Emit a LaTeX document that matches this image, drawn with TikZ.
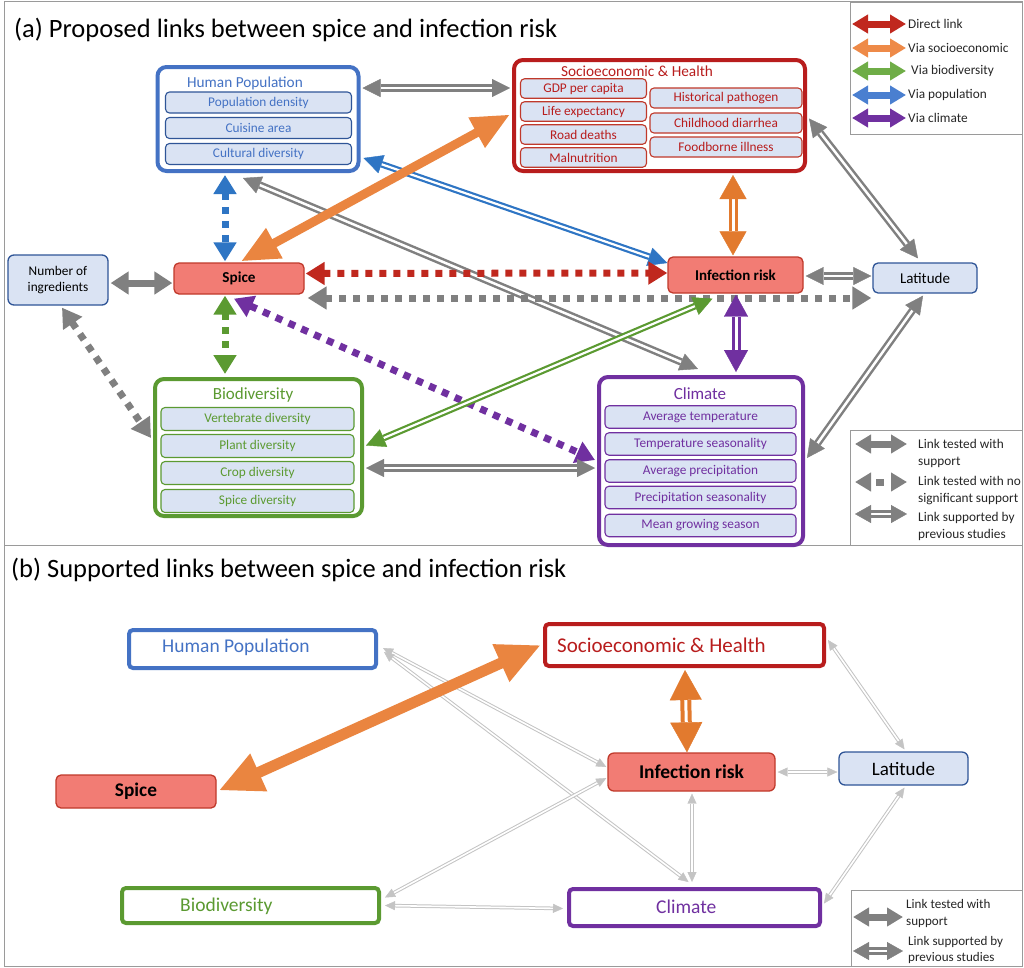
\documentclass[tikz,border=0pt]{standalone}
\usepackage{fontspec}
\setmainfont{Carlito}
\usetikzlibrary{arrows.meta,calc,decorations.markings}
\definecolor{hpblue}{HTML}{4472C4}
\definecolor{navy}{HTML}{2F5597}
\definecolor{sered}{HTML}{B81D1D}
\definecolor{itemred}{HTML}{C0392B}
\definecolor{biogreen}{HTML}{5B9A31}
\definecolor{clpurple}{HTML}{7030A0}
\definecolor{itemfill}{HTML}{DAE3F3}
\definecolor{spicefill}{HTML}{F27C74}
\definecolor{spiceedge}{HTML}{C0392B}
\definecolor{arrgray}{HTML}{808080}
\definecolor{lightarr}{HTML}{C4C4C4}
\definecolor{orangearr}{HTML}{EA8540}
\definecolor{orangedbl}{HTML}{E27A2E}
\definecolor{redarr}{HTML}{C0281E}
\definecolor{bluearr}{HTML}{2E75C4}
\definecolor{framegray}{HTML}{9A9A9A}
\definecolor{leggreen}{HTML}{6FAD47}
\definecolor{legblue}{HTML}{4A7FD0}
\definecolor{legorange}{HTML}{EE8A48}
\newcommand\fsz[2]{\fontsize{#1}{#2}\selectfont}
\begin{document}
\begin{tikzpicture}[x=1pt,y=-1pt,
  bigbox/.style={draw=#1, line width=4pt, rounded corners=9pt, fill=white, inner sep=0pt},
  bbox/.style={draw=#1, line width=4pt, rounded corners=4pt, fill=white, inner sep=0pt},
  boxtitle/.style={font=\fsz{15.3}{18}, inner sep=0pt},
  bigtitle/.style={font=\fsz{17}{20}, inner sep=0pt},
  itembox/.style 2 args={draw=#1, text=#2, line width=1.1pt, rounded corners=4pt, fill=itemfill, inner sep=0pt, font=\fsz{13.3}{15}},
  varbox/.style 2 args={draw=#1, fill=#2, line width=1.3pt, rounded corners=6pt, inner sep=0pt},
  btext/.style={font=\fsz{19.5}{22}, inner sep=0pt},
  panelframe/.style={draw=framegray, line width=1pt},
  legtext/.style={anchor=west, align=left, inner sep=0pt, font=\fsz{13.3}{17}, text=black!85},
  solidarr/.style={color=#1, draw, line width=7pt, {Triangle[length=18pt,width=22pt]}-{Triangle[length=18pt,width=22pt]}},
  legarr/.style={color=#1, draw, line width=7pt, {Triangle[length=16pt,width=18pt]}-{Triangle[length=16pt,width=18pt]}},
  dasharr/.style={color=#1, draw, line width=7pt, dash pattern=on 7pt off 7pt, {Triangle[length=19pt,width=22pt]}-{Triangle[length=19pt,width=22pt]}},
  thickarr/.style={color=#1, draw, line width=9pt, {Triangle[length=38pt,width=32pt]}-{Triangle[length=38pt,width=32pt]}},
  thickarrB/.style={color=#1, draw, line width=11pt, {Triangle[length=44pt,width=38pt]}-{Triangle[length=44pt,width=38pt]}},
  dblarrow/.style n args={5}{color=#1,
    preaction={draw=#1, double=white, line width=#2, double distance=#3, shorten <=#4, shorten >=#4},
    postaction={decorate, decoration={markings,
      mark=at position 0 with {\arrowreversed{Triangle[length=#4,width=#5]}},
      mark=at position 1 with {\arrow{Triangle[length=#4,width=#5]}}}}},
  gdbl/.style={dblarrow={arrgray}{2.5pt}{2.5pt}{18pt}{18pt}},
  ldbl/.style={dblarrow={lightarr}{1pt}{1.6pt}{10pt}{9pt}},
]
\useasboundingbox (0,0) rectangle (1024,967);
\fill[white] (0,0) rectangle (1024,967);
% panel frames
\draw[panelframe] (4,1) rectangle (1022,545);
\draw[panelframe] (4,545) rectangle (1022,966);

% ================= panel (a) =================
\node[anchor=west, font=\fsz{26.5}{30}, inner sep=0pt] (titleA) at (14,30) {(a) Proposed links between spice and infection risk};

% Human population
\node[bigbox=hpblue, minimum width=201pt, minimum height=104pt] (hp) at (258,119) {};
\node[boxtitle, text=hpblue] (hpT) at (245,83) {Human Population};
\node[itembox={navy}{hpblue}, minimum width=186pt, minimum height=21pt] (hp1) at (258.5,102.5) {Population density};
\node[itembox={navy}{hpblue}, minimum width=186pt, minimum height=21pt] (hp2) at (258.5,128) {Cuisine area};
\node[itembox={navy}{hpblue}, minimum width=186pt, minimum height=21pt] (hp3) at (258.5,154) {Cultural diversity};

% Socioeconomic & Health
\node[bigbox=sered, minimum width=291pt, minimum height=111pt] (se) at (659.5,115.5) {};
\node[boxtitle, text=sered] (seT) at (637,71) {Socioeconomic \& Health};
\node[itembox={itemred}{sered}, minimum width=126pt, minimum height=19.5pt] (se1) at (583.5,88.5) {GDP per capita};
\node[itembox={itemred}{sered}, minimum width=126pt, minimum height=19.5pt] (se2) at (583.5,111.5) {Life expectancy};
\node[itembox={itemred}{sered}, minimum width=126pt, minimum height=19.5pt] (se3) at (583.5,134.5) {Road deaths};
\node[itembox={itemred}{sered}, minimum width=126pt, minimum height=19.5pt] (se4) at (583.5,157.5) {Malnutrition};
\node[itembox={itemred}{sered}, minimum width=152pt, minimum height=20pt] (se5) at (726,98) {Historical pathogen};
\node[itembox={itemred}{sered}, minimum width=152pt, minimum height=20pt] (se6) at (726,123) {Childhood diarrhea};
\node[itembox={itemred}{sered}, minimum width=152pt, minimum height=20pt] (se7) at (726,147) {Foodborne illness};

% Biodiversity
\node[bigbox=biogreen, minimum width=207pt, minimum height=137pt] (bio) at (258.5,447.5) {};
\node[bigtitle, text=biogreen] (bioT) at (253,395) {Biodiversity};
\node[itembox={biogreen}{biogreen}, minimum width=193pt, minimum height=23pt] (bio1) at (257.5,419) {Vertebrate diversity};
\node[itembox={biogreen}{biogreen}, minimum width=193pt, minimum height=23pt] (bio2) at (257.5,446) {Plant diversity};
\node[itembox={biogreen}{biogreen}, minimum width=193pt, minimum height=23pt] (bio3) at (257.5,473) {Crop diversity};
\node[itembox={biogreen}{biogreen}, minimum width=193pt, minimum height=23pt] (bio4) at (257.5,501) {Spice diversity};

% Climate
\node[bigbox=clpurple, minimum width=204pt, minimum height=168pt] (cl) at (701,461) {};
\node[bigtitle, text=clpurple] (clT) at (700,394) {Climate};
\node[itembox={clpurple}{clpurple}, minimum width=191pt, minimum height=22.5pt] (cl1) at (700.5,417) {Average temperature};
\node[itembox={clpurple}{clpurple}, minimum width=191pt, minimum height=22.5pt] (cl2) at (700.5,444) {Temperature seasonality};
\node[itembox={clpurple}{clpurple}, minimum width=191pt, minimum height=22.5pt] (cl3) at (700.5,471) {Average precipitation};
\node[itembox={clpurple}{clpurple}, minimum width=191pt, minimum height=22.5pt] (cl4) at (700.5,497.5) {Precipitation seasonality};
\node[itembox={clpurple}{clpurple}, minimum width=191pt, minimum height=22.5pt] (cl5) at (700.5,525.5) {Mean growing season};

% single variables
\node[varbox={navy}{itemfill}, minimum width=100pt, minimum height=50pt, align=center, font=\fsz{13.3}{16}] (ni) at (58,280) {Number of\\ingredients};
\node[varbox={spiceedge}{spicefill}, minimum width=130pt, minimum height=31pt, font=\fsz{15.2}{17}\bfseries, rounded corners=5pt] (spice) at (239,278.5) {Spice};
\node[varbox={spiceedge}{spicefill}, minimum width=135pt, minimum height=36pt, font=\fsz{15}{17}\bfseries, rounded corners=5pt] (inf) at (735.5,275) {Infection risk};
\node[varbox={navy}{itemfill}, minimum width=104pt, minimum height=30pt, font=\fsz{15}{17}, rounded corners=5pt] (lat) at (925,278) {Latitude};

% connectors (a)
\path[gdbl] ($(hp.east)+(2,-31)$) -- ($(se.west)+(-2,-27.5)$);
\path[gdbl] ($(hp.south)+(-15,5)$) -- ($(cl.north)+(-3,-6)$);
\path[dblarrow={bluearr}{2.2pt}{2.2pt}{19pt}{19pt}] ($(hp.east)+(3,39)$) -- ($(inf.west)+(0,-12)$);
\draw[dasharr=bluearr] ($(hp.south)+(-33,2)$) -- ($(spice.north)+(-14,-1)$);
\draw[dasharr=biogreen] ($(spice.south)+(-14,1)$) -- ($(bio.north)+(-33.5,-3)$);
\draw[dasharr=redarr] ($(spice.east)+(1,-5)$) -- ($(inf.west)+(0,-2)$);
\draw[dasharr=arrgray] ($(spice.east)+(3,19.5)$) -- ($(lat.west)+(-1,20)$);
\draw[dasharr=arrgray] ($(ni.south)+(4,2)$) -- ($(bio.west)+(-2,-9.5)$);
\draw[dasharr=clpurple] ($(spice.south)+(-5,4)$) -- ($(cl.west)+(-2,-1)$);
\draw[solidarr=arrgray] ($(ni.east)+(2,3)$) -- ($(spice.west)+(-1,4.5)$);
\path[dblarrow={biogreen}{2.2pt}{2.2pt}{19pt}{19pt}] ($(inf.south)+(-23,5)$) -- ($(bio.east)+(2,-2)$);
\path[gdbl] ($(bio.east)+(2,20.5)$) -- ($(cl.west)+(-2,7)$);
\path[dblarrow={orangedbl}{3pt}{3pt}{24pt}{27pt}] ($(se.south)+(73.5,2)$) -- ($(inf.north)+(-2.5,-1)$);
\path[dblarrow={clpurple}{3pt}{3pt}{22pt}{24pt}] ($(inf.south)+(0.5,1)$) -- ($(cl.north)+(35,-3)$);
\path[gdbl] ($(inf.east)+(2,1)$) -- ($(lat.west)+(-1,-2)$);
\path[gdbl] ($(se.east)+(2,3)$) -- ($(lat.north)+(-7,-4)$);
\path[gdbl] ($(lat.south)+(-2,2)$) -- ($(cl.east)+(2,-3)$);
\draw[thickarr=orangearr] ($(spice.north)+(2,-1)$) -- ($(se.west)+(-2,-1)$);

% legend top
\draw[panelframe] (850,2) rectangle (1022,134);
\coordinate (la1) at (852,24); \coordinate (lb1) at (906,24);
\coordinate (la2) at (852,48); \coordinate (lb2) at (906,48);
\coordinate (la3) at (852,71); \coordinate (lb3) at (906,71);
\coordinate (la4) at (852,95); \coordinate (lb4) at (906,95);
\coordinate (la5) at (852,118); \coordinate (lb5) at (906,118);
\draw[legarr=redarr] (la1) -- (lb1);
\draw[legarr=legorange] (la2) -- (lb2);
\draw[legarr=leggreen] (la3) -- (lb3);
\draw[legarr=legblue] (la4) -- (lb4);
\draw[legarr=clpurple] (la5) -- (lb5);
\node[legtext] (lt1) at (908,24) {Direct link};
\node[legtext] (lt2) at (908,48) {Via socioeconomic};
\node[legtext] (lt3) at (911,71) {Via biodiversity};
\node[legtext] (lt4) at (908,95) {Via population};
\node[legtext] (lt5) at (908,118) {Via climate};

% legend middle
\draw[panelframe] (850,430) rectangle (1022,545);
\coordinate (ma1) at (855,444); \coordinate (mb1) at (907,444);
\coordinate (ma2) at (855,482); \coordinate (mb2) at (907,482);
\coordinate (ma3) at (855,514); \coordinate (mb3) at (907,514);
\draw[legarr=arrgray] (ma1) -- (mb1);
\draw[color=arrgray, draw, line width=7pt, dash pattern=on 0pt off 6pt on 8pt off 30pt, {Triangle[length=16pt,width=18pt]}-{Triangle[length=16pt,width=18pt]}] (ma2) -- (mb2);
\path[dblarrow={arrgray}{2.5pt}{2.5pt}{16pt}{18pt}] (ma3) -- (mb3);
\node[legtext] (mt1) at (918,453.5) {Link tested with\\support};
\node[legtext] (mt2) at (918,491) {Link tested with no\\significant support};
\node[legtext] (mt3) at (918,526) {Link supported by\\previous studies};

% ================= panel (b) =================
\node[anchor=west, font=\fsz{26.5}{30}, inner sep=0pt] (titleB) at (11,570) {(b) Supported links between spice and infection risk};

\node[bbox=hpblue, minimum width=247pt, minimum height=38pt] (hpB) at (252.5,649) {};
\node[btext, anchor=west, text=hpblue] (hpBt) at (162,647) {Human Population};
\node[bbox=sered, minimum width=279pt, minimum height=42pt] (seB) at (684.5,645) {};
\node[btext, anchor=west, text=sered, font=\fsz{21}{24}] (seBt) at (557,645) {Socioeconomic \& Health};
\node[bbox=biogreen, minimum width=257pt, minimum height=35pt] (bioB) at (250.5,905.5) {};
\node[btext, anchor=west, text=biogreen] (bioBt) at (180,906) {Biodiversity};
\node[bbox=clpurple, minimum width=251pt, minimum height=37pt] (clB) at (694.5,907.5) {};
\node[btext, anchor=west, text=clpurple] (clBt) at (656,907) {Climate};
\node[varbox={spiceedge}{spicefill}, minimum width=160pt, minimum height=33pt, font=\fsz{19.3}{22}\bfseries, rounded corners=5pt] (spiceB) at (136,791.5) {Spice};
\node[varbox={spiceedge}{spicefill}, minimum width=167pt, minimum height=38pt, font=\fsz{19.5}{22}\bfseries, rounded corners=6pt] (infB) at (691.5,772) {Infection risk};
\node[varbox={navy}{itemfill}, minimum width=129pt, minimum height=33pt, font=\fsz{19}{22}, rounded corners=6pt] (latB) at (903.5,768.5) {Latitude};

% connectors (b)
\path[ldbl] ($(hpB.east)+(5,-1)$) -- ($(infB.west)+(-1,-5)$);
\path[ldbl] ($(hpB.east)+(6,3)$) -- ($(clB.north)+(-6,-5)$);
\path[ldbl] ($(seB.east)+(2,-5)$) -- ($(latB.north)+(1,-2)$);
\path[ldbl] ($(infB.east)+(2,0)$) -- ($(latB.west)+(-1,3.5)$);
\path[ldbl] ($(infB.south)+(0.5,2)$) -- ($(clB.north)+(-2.5,-5)$);
\path[ldbl] ($(bioB.east)+(4,-8)$) -- ($(infB.west)+(-1,6)$);
\path[ldbl] ($(bioB.east)+(4,0)$) -- ($(clB.west)+(-4,1)$);
\path[ldbl] ($(latB.south)+(1,2)$) -- ($(clB.east)+(2,-4)$);
\path[dblarrow={orangedbl}{4pt}{3pt}{30pt}{32pt}] ($(seB.south)+(0.5,2)$) -- ($(infB.north)+(-4.5,0)$);
\draw[thickarrB=orangearr] ($(spiceB.east)+(2,-1)$) -- ($(seB.west)+(-2,0)$);

% legend bottom
\draw[panelframe] (851,890) -- (1022,890) (851,890) -- (851,967);
\coordinate (na1) at (853,917); \coordinate (nb1) at (903,917);
\coordinate (na2) at (853,951); \coordinate (nb2) at (903,951);
\draw[legarr=arrgray] (na1) -- (nb1);
\path[dblarrow={arrgray}{2.5pt}{2.5pt}{16pt}{18pt}] (na2) -- (nb2);
\node[legtext, font=\fsz{13.1}{17}] (nt1) at (906,913.5) {Link tested with\\support};
\node[legtext, font=\fsz{13.1}{16}] (nt2) at (908,949.5) {Link supported by\\previous studies};
\end{tikzpicture}
\end{document}
